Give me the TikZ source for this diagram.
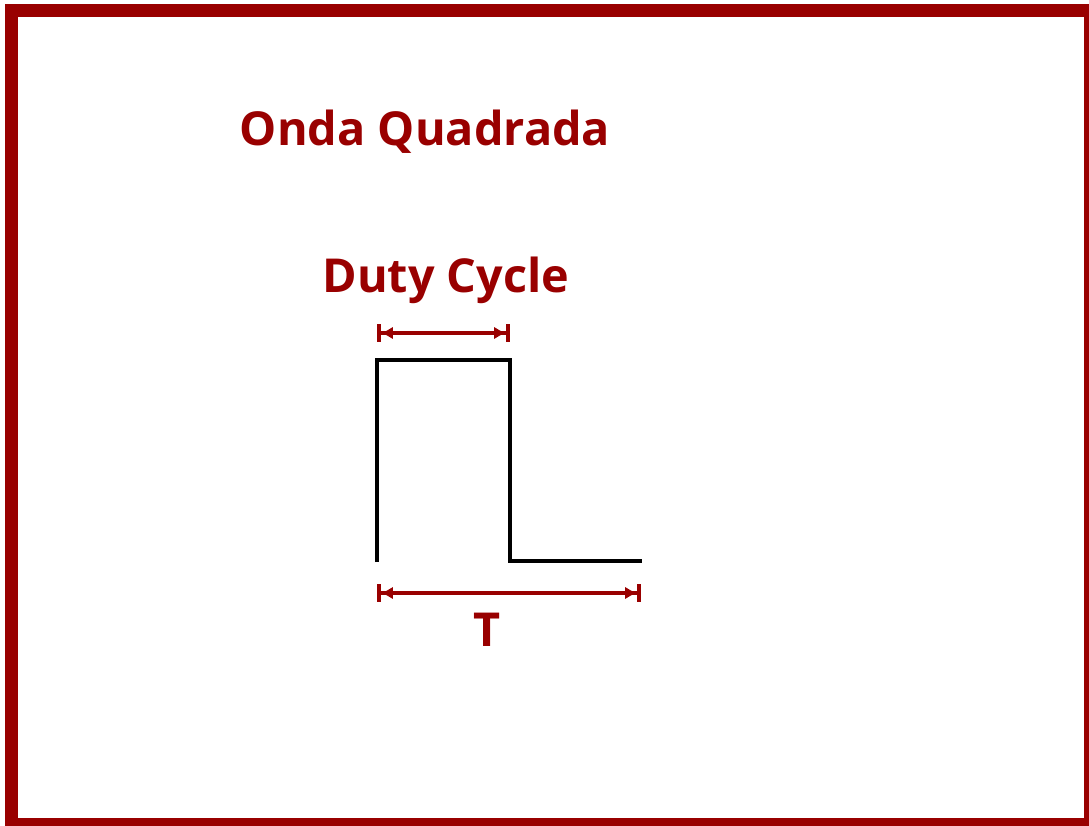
\documentclass[tikz,border=0pt]{standalone}
\usepackage{fontspec}
\setmainfont{Open Sans}
\usepackage{tikz}
\usetikzlibrary{positioning, arrows.meta}
\definecolor{Wave_Red}{HTML}{990000}

\begin{document}
\begin{tikzpicture}[
  x=0.01cm, y=-0.01cm,
  every node/.style={text=Wave_Red, inner sep=0pt},
  label/.style={font=\fontsize{13.3}{16}\selectfont\bfseries},
  wave/.style={draw=black, line width=1.1pt},
  dim/.style={{Bar[width=5pt]Latex[length=3.4pt,width=3.6pt]}-{Latex[length=3.4pt,width=3.6pt]Bar[width=5pt]},
    draw=Wave_Red, line width=1.1pt},
  frame/.style={draw=Wave_Red, line width=3.7pt}
]
  \useasboundingbox (0,0) rectangle (1089,825);
  \clip (0,0) rectangle (1089,825);

  % Frame
  \draw[frame] (11.5,11) rectangle (1090,824);

  % Titles
  \node[label] (title) at (425,132) {Onda Quadrada};
  \node[label] (duty) at (446,280) {Duty Cycle};

  % Square wave
  \coordinate (w0) at (377,562);
  \coordinate (w1) at (377,360);
  \coordinate (w2) at (510,360);
  \coordinate (w3) at (510,561);
  \coordinate (w4) at (642,561);
  \draw[wave] (w0) -- (w1) -- (w2) -- (w3) -- (w4);

  % Duty cycle width
  \coordinate (da) at (377,333);
  \coordinate (db) at (510,333);
  \draw[dim] (da) -- (db);

  % Period
  \coordinate (ta) at (377,593);
  \coordinate (tb) at (641,593);
  \draw[dim] (ta) -- (tb);
  \node[label] (per) at (487,630) {T};
\end{tikzpicture}
\end{document}
